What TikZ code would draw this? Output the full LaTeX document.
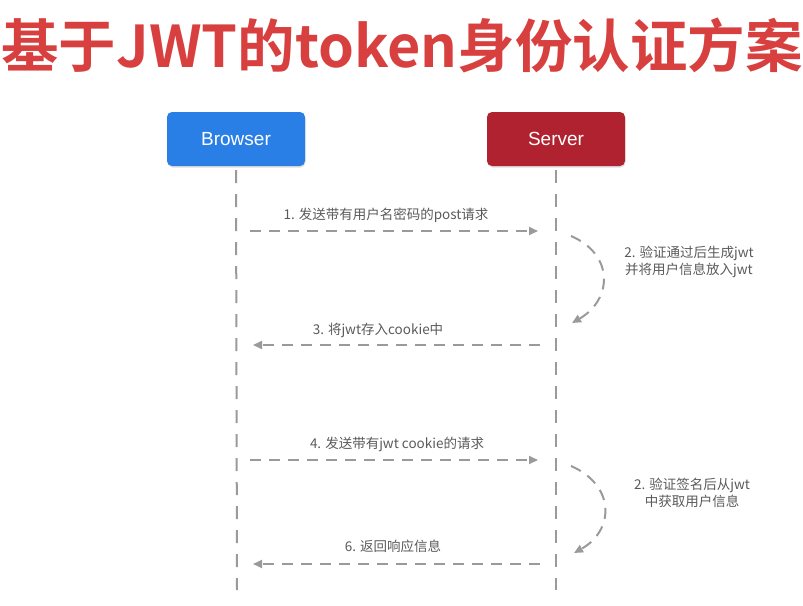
\documentclass[tikz,border=0pt]{standalone}
\usepackage{fontspec}
\setmainfont{Liberation Sans}
\newfontfamily\cjk{Noto Sans CJK SC}
\newfontfamily\cjkbold{Noto Sans CJK SC Bold}
\usetikzlibrary{arrows.meta,shadows}
\definecolor{titlered}{HTML}{D8403F}
\definecolor{bblue}{HTML}{2A7FE6}
\definecolor{sred}{HTML}{B0222F}
\definecolor{lgray}{HTML}{9A9A9A}
\definecolor{tgray}{HTML}{5A5A5A}
\tikzset{
  actor/.style={rounded corners=5pt, minimum width=138pt, minimum height=54pt, text=white,
    font=\fontsize{19}{22}\selectfont, drop shadow={shadow xshift=0.5pt, shadow yshift=-1.5pt, opacity=0.25}},
  lifeline/.style={draw=lgray, line width=2pt, dash pattern=on 13pt off 11pt},
  msg/.style={draw=lgray, line width=2pt, dash pattern=on 11pt off 8pt, -{Triangle[length=9pt,width=8pt]}},
  lbl/.style={text=tgray, font=\cjk\fontsize{13.5}{17.5}\selectfont, align=center},
}
\begin{document}
\begin{tikzpicture}[x=1pt,y=-1pt]
\useasboundingbox (0,0) rectangle (803,605);
\node[text=titlered, font=\cjkbold\fontsize{57.5}{62}\selectfont, anchor=center] (title) at (402,45) {基于JWT的token身份认证方案};
\node[actor, fill=bblue] (browser) at (236,139) {Browser};
\node[actor, fill=sred] (server) at (556,139) {Server};
\coordinate (bend) at (237,590);
\coordinate (send) at (556,590);
\draw[lifeline] (browser.south) ++(0,4) -- (bend);
\draw[lifeline] (server.south) ++(0,4) -- (send);
% message 1
\coordinate (m1s) at (250,231); \coordinate (m1e) at (538,231);
\draw[msg] (m1s) -- (m1e);
\node[lbl] (l1) at (386,215) {1. 发送带有用户名密码的post请求};
% self 2
\coordinate (c1s) at (571,236); \coordinate (c1e) at (572,323);
\draw[msg] (c1s) .. controls (615,255) and (612,300) .. (c1e);
\node[lbl] (l2) at (689,262) {2. 验证通过后生成jwt\\并将用户信息放入jwt};
% message 3
\coordinate (m3s) at (540,345); \coordinate (m3e) at (253,345);
\draw[msg] (m3s) -- (m3e);
\node[lbl] (l3) at (378,330) {3. 将jwt存入cookie中};
% message 4
\coordinate (m4s) at (250,460); \coordinate (m4e) at (538,460);
\draw[msg] (m4s) -- (m4e);
\node[lbl] (l4) at (397,444) {4. 发送带有jwt cookie的请求};
% self 5
\coordinate (c2s) at (571,466); \coordinate (c2e) at (574,553);
\draw[msg] (c2s) .. controls (615,485) and (615,530) .. (c2e);
\node[lbl] (l5) at (692,493) {2. 验证签名后从jwt\\中获取用户信息};
% message 6
\coordinate (m6s) at (540,564); \coordinate (m6e) at (253,564);
\draw[msg] (m6s) -- (m6e);
\node[lbl] (l6) at (393,546) {6. 返回响应信息};
\end{tikzpicture}
\end{document}
